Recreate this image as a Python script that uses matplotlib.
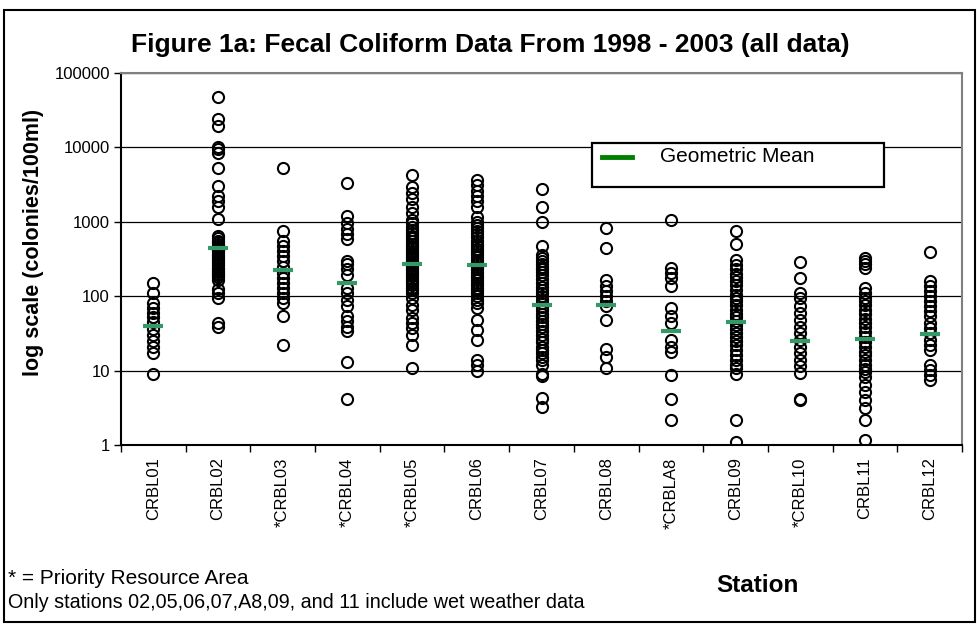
import matplotlib
matplotlib.use("Agg")
import matplotlib.pyplot as plt
from matplotlib.patches import Rectangle
from matplotlib.lines import Line2D

plt.rcParams['font.family'] = ['Liberation Sans', 'DejaVu Sans']

# station names on the x axis
stations = ['CRBL01', 'CRBL02', '*CRBL03', '*CRBL04', '*CRBL05', 'CRBL06', 'CRBL07',
            'CRBL08', '*CRBLA8', 'CRBL09', '*CRBL10', 'CRBL11', 'CRBL12']

# fecal coliform samples (colonies/100ml)
crbl01 = [150, 110, 80, 70, 60, 52, 45, 36, 30, 25, 21, 17, 9]
crbl02 = [48000, 24000, 19500, 10000, 9400, 8300, 5300, 3000, 2200, 1900, 1600, 1100,
          640, 600, 560, 530, 500, 470, 450, 420, 400, 380, 360, 340, 320, 300, 280,
          260, 240, 230, 220, 210, 200, 190, 180, 165, 125, 110, 95, 43, 39]
crbl03 = [5300, 750, 550, 470, 400, 350, 300, 250, 205, 175, 150, 130, 110, 95, 80, 54, 22]
crbl04 = [3300, 1200, 970, 790, 680, 580, 300, 270, 230, 195, 130, 110, 90, 73, 54, 46,
          39, 34, 13, 4.1]
crbl05 = [4300, 2900, 2450, 2000, 1600, 1300, 1050, 950, 850, 780, 700, 650, 600, 550,
          500, 470, 440, 410, 380, 360, 340, 320, 300, 285, 270, 255, 240, 225, 210, 200,
          185, 170, 160, 150, 140, 130, 122, 110, 95, 77, 66, 51, 44, 37, 30, 22, 11]
crbl06 = [3600, 3100, 2600, 2200, 1900, 1600, 1150, 1000, 900, 820, 750, 680, 620, 560,
          510, 470, 430, 400, 370, 340, 310, 290, 270, 250, 230, 210, 195, 180, 165, 150,
          140, 130, 120, 110, 100, 90, 80, 70, 48, 35, 26, 14, 12, 10]
crbl07 = [2800, 1600, 1000, 480, 360, 330, 300, 270, 250, 230, 210, 190, 170, 150, 135,
          120, 110, 100, 90, 80, 72, 65, 58, 52, 47, 42, 38, 34, 30, 27, 24, 21, 19, 17,
          15, 14, 12, 9, 8.5, 4.3, 3.2]
crbl08 = [830, 440, 165, 136, 116, 100, 85, 73, 48, 19.5, 15, 10.8]
crbla8 = [1050, 240, 206, 176, 136, 69, 54, 44, 26, 21, 17.6, 8.8, 4.1, 2.2]
crbl09 = [750, 500, 310, 265, 230, 200, 180, 160, 140, 120, 105, 95, 85, 75, 65, 58, 52,
          46, 41, 36, 32, 28, 25, 22, 19, 16, 14, 12, 11, 9, 2.2, 1.1]
crbl10 = [285, 175, 110, 95, 73, 60, 48, 39, 32, 26, 21, 17, 14, 11.4, 9.2, 4.2, 4.0]
crbl11 = [330, 300, 270, 240, 130, 110, 95, 85, 75, 66, 58, 50, 44, 38, 33, 28, 24, 21,
          18, 16, 14, 12, 10.5, 9.5, 8.3, 6.4, 5.2, 4.0, 3.1, 2.2, 1.15]
crbl12 = [390, 160, 136, 116, 100, 85, 73, 63, 54, 44, 37, 32, 26, 22, 19, 12, 10.2,
          8.8, 7.5]

samples = [crbl01, crbl02, crbl03, crbl04, crbl05, crbl06, crbl07,
           crbl08, crbla8, crbl09, crbl10, crbl11, crbl12]

geo_means = [40, 440, 225, 150, 270, 265, 75, 75, 34, 45, 25, 27, 31]

y_ticks = [1, 10, 100, 1000, 10000, 100000]
y_labels = ['1', '10', '100', '1000', '10000', '100000']

fig = plt.figure(figsize=(9.77, 6.25), dpi=100)
ax = fig.add_axes([121/977, 1 - 445/625, (962 - 121)/977, (445 - 73)/625])

for i, vals in enumerate(samples):
    ax.plot([i] * len(vals), vals, linestyle='none', marker='o', markersize=8,
            markerfacecolor='none', markeredgecolor='black', markeredgewidth=1.5,
            zorder=3)

ax.plot(range(len(stations)), geo_means, linestyle='none', marker='_',
        markersize=14, markeredgewidth=3, color='#339966', zorder=4)

ax.set_yscale('log')
ax.set_ylim(1, 100000)
ax.set_xlim(-0.5, len(stations) - 0.5)
ax.set_yticks(y_ticks)
ax.set_yticklabels(y_labels, fontsize=12)
ax.minorticks_off()
ax.tick_params(axis='y', length=5, width=1, direction='out', pad=3)

ax.set_xticks([i + 0.5 for i in range(-1, len(stations))])
ax.set_xticklabels([])
ax.set_xticks(range(len(stations)), minor=True)
ax.set_xticklabels(stations, minor=True, rotation=90, fontsize=12, va='top', ha='center')
ax.tick_params(axis='x', which='major', length=5, width=1, direction='out')
ax.tick_params(axis='x', which='minor', length=0, pad=9)

ax.grid(axis='y', which='major', color='black', linewidth=0.9, zorder=1)
ax.set_axisbelow(True)
for side in ['top', 'right']:
    ax.spines[side].set_color('#808080')
    ax.spines[side].set_linewidth(1.5)
for side in ['left', 'bottom']:
    ax.spines[side].set_color('black')
    ax.spines[side].set_linewidth(1.5)

ax.set_ylabel('log scale (colonies/100ml)', fontsize=15.5, fontweight='bold')
ax.yaxis.set_label_coords((44 - 121)/841, (445 - 242)/372)

fig.text(490/977, 1 - 45/625, 'Figure 1a: Fecal Coliform Data From 1998 - 2003 (all data)',
         ha='center', va='center', fontsize=19, fontweight='bold')

# legend box drawn like the Excel one
fig.patches.append(Rectangle((592/977, 1 - 187/625), 292/977, 44/625, transform=fig.transFigure,
                             facecolor='white', edgecolor='black', linewidth=1.6, zorder=5))
fig.lines.append(Line2D([602/977, 632/977], [1 - 157/625] * 2, transform=fig.transFigure,
                        color='#008000', linewidth=3.5, zorder=6))
fig.text(660/977, 1 - 157/625, 'Geometric Mean', ha='left', va='center', fontsize=15, zorder=6)

fig.text(8/977, 1 - 578/625, '* = Priority Resource Area', ha='left', va='center', fontsize=15)
fig.text(8/977, 1 - 602/625, 'Only stations 02,05,06,07,A8,09, and 11 include wet weather data',
         ha='left', va='center', fontsize=14.2)
fig.text(757/977, 1 - 585/625, 'Station', ha='center', va='center', fontsize=17.5,
         fontweight='bold')

fig.patches.append(Rectangle((4/977, 3/625), 971/977, 612/625, transform=fig.transFigure,
                             facecolor='none', edgecolor='black', linewidth=1.5))

fig.savefig('out.png', dpi=100)
